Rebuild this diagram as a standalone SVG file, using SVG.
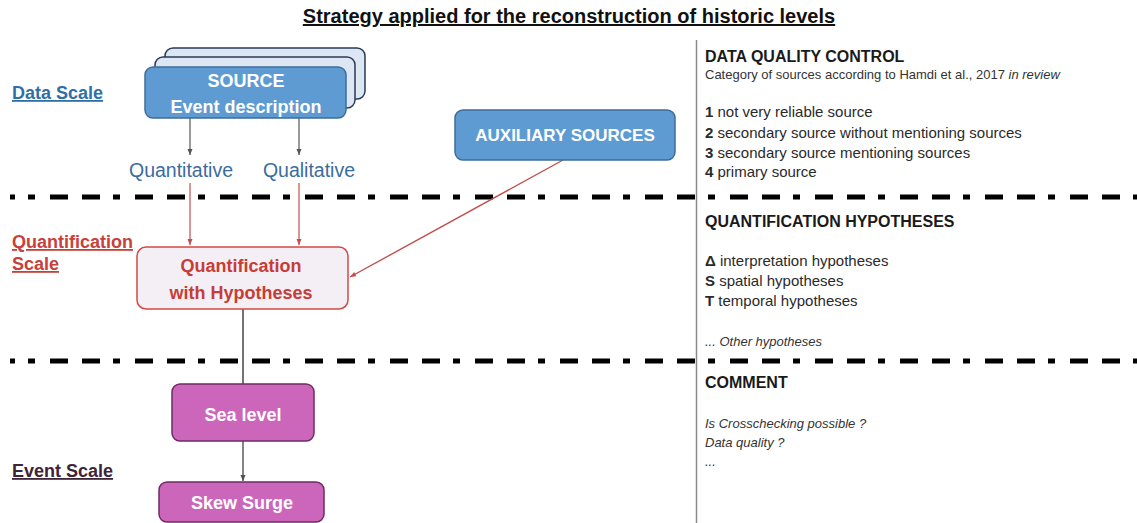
<svg xmlns="http://www.w3.org/2000/svg" width="1137" height="523" viewBox="0 0 1137 523">
<defs>
<marker id="ahGray" markerWidth="8" markerHeight="8" refX="7" refY="4" orient="auto" markerUnits="userSpaceOnUse">
<path d="M1,1.5 L7,4 L1,6.5 Z" fill="#555"/>
</marker>
<marker id="ahRed" markerWidth="8" markerHeight="8" refX="7" refY="4" orient="auto" markerUnits="userSpaceOnUse">
<path d="M1,1.5 L7,4 L1,6.5 Z" fill="#c0504d"/>
</marker>
<marker id="ahDark" markerWidth="8" markerHeight="8" refX="7" refY="4" orient="auto" markerUnits="userSpaceOnUse">
<path d="M1,1.5 L7,4 L1,6.5 Z" fill="#5a4a55"/>
</marker>
</defs>
<style>
text{font-family:"Liberation Sans",Arial,sans-serif}
.b{font-weight:bold}
.title{font-size:20px;font-weight:bold;fill:#111;text-decoration:underline}
.scale{font-size:18px;font-weight:bold;text-decoration:underline}
.white{fill:#fff;font-weight:bold;text-anchor:middle}
.head{font-size:16px;font-weight:bold;fill:#1a1a1a}
.item{font-size:15px;fill:#2a2a2a}
.small{font-size:13px;fill:#333}
.it{font-style:italic}
.dash{stroke:#000;stroke-width:5;stroke-dasharray:7 15 18 14 18 13;stroke-dashoffset:67;fill:none}
.blueBox{fill:#5e9bd3;stroke:#3f6d99;stroke-width:1.5}
.backBox{fill:#dde7f3;stroke:#2b3a58;stroke-width:1.5}
.pinkBox{fill:#cc66bb;stroke:#6e2c64;stroke-width:1.5}
</style>
<rect width="1137" height="523" fill="#fff"/>
<text class="title" x="569" y="23" text-anchor="middle">Strategy applied for the reconstruction of historic levels</text>

<line x1="696.5" y1="40" x2="696.5" y2="523" stroke="#8a8a8a" stroke-width="1.5"/>
<line class="dash" x1="10" y1="197" x2="1137" y2="197"/>
<line class="dash" x1="10" y1="361" x2="1137" y2="361"/>

<g id="scale-labels">
<text class="scale" x="12" y="99" fill="#2f6fa8">Data Scale</text>
<text class="scale" x="12" y="248" fill="#c9403b">Quantification</text>
<text class="scale" x="12" y="270" fill="#c9403b">Scale</text>
<text class="scale" x="12" y="477" fill="#3f2438">Event Scale</text>
</g>

<g id="connectors">
<line x1="190" y1="118" x2="190" y2="155" stroke="#555" stroke-width="1.2" marker-end="url(#ahGray)"/>
<line x1="299" y1="118" x2="299" y2="155" stroke="#555" stroke-width="1.2" marker-end="url(#ahGray)"/>
<line x1="190" y1="183" x2="190" y2="245" stroke="#c0504d" stroke-width="1.2" marker-end="url(#ahRed)"/>
<line x1="299" y1="183" x2="299" y2="245" stroke="#c0504d" stroke-width="1.2" marker-end="url(#ahRed)"/>
<line x1="563" y1="160" x2="350" y2="277" stroke="#c0504d" stroke-width="1.4" marker-end="url(#ahRed)"/>
<line x1="243" y1="309" x2="243" y2="384" stroke="#5a4a55" stroke-width="1.6"/>
<line x1="243" y1="441" x2="243" y2="481" stroke="#5a4a55" stroke-width="1.4" marker-end="url(#ahDark)"/>
</g>

<g id="source">
<rect class="backBox" x="165" y="48" width="200" height="51" rx="8"/>
<rect class="backBox" x="155" y="57" width="200" height="51" rx="8"/>
<rect class="blueBox" x="145" y="67" width="201" height="51" rx="8"/>
<text class="white" x="246" y="87" font-size="18">SOURCE</text>
<text class="white" x="246" y="113" font-size="18">Event description</text>
</g>

<g id="quantitative">
<text x="181" y="177" font-size="19.5" fill="#3a6d9e" text-anchor="middle">Quantitative</text>
</g>
<g id="qualitative">
<text x="309" y="177" font-size="19.5" fill="#3a6d9e" text-anchor="middle">Qualitative</text>
</g>

<g id="auxiliary">
<rect class="blueBox" x="455" y="110" width="220" height="50" rx="8"/>
<text class="white" x="565" y="141" font-size="17">AUXILIARY SOURCES</text>
</g>

<g id="quantification">
<rect x="137" y="247" width="211" height="62" rx="9" fill="#f4eff4" stroke="#d04a45" stroke-width="1.5"/>
<text x="241" y="272" font-size="18" font-weight="bold" fill="#c63d38" text-anchor="middle">Quantification</text>
<text x="241" y="299" font-size="18" font-weight="bold" fill="#c63d38" text-anchor="middle">with Hypotheses</text>
</g>

<g id="sea-level">
<rect class="pinkBox" x="172" y="384" width="142" height="57" rx="8"/>
<text class="white" x="243" y="421" font-size="18">Sea level</text>
</g>

<g id="skew-surge">
<rect class="pinkBox" x="159" y="482" width="165" height="40" rx="8"/>
<text class="white" x="242" y="509" font-size="18">Skew Surge</text>
</g>

<g id="data-quality">
<text class="head" x="705" y="62">DATA QUALITY CONTROL</text>
<text class="small" x="705" y="79">Category of sources according to Hamdi et al., 2017 <tspan class="it">in review</tspan></text>
<text class="item" x="705" y="117"><tspan class="b">1</tspan> not very reliable source</text>
<text class="item" x="705" y="138"><tspan class="b">2</tspan> secondary source without mentioning sources</text>
<text class="item" x="705" y="158"><tspan class="b">3</tspan> secondary source mentioning sources</text>
<text class="item" x="705" y="177"><tspan class="b">4</tspan> primary source</text>
</g>

<g id="hypotheses">
<text class="head" x="705" y="227">QUANTIFICATION HYPOTHESES</text>
<text class="item" x="705" y="266"><tspan class="b">Δ</tspan> interpretation hypotheses</text>
<text class="item" x="705" y="286"><tspan class="b">S</tspan> spatial hypotheses</text>
<text class="item" x="705" y="306"><tspan class="b">T</tspan> temporal hypotheses</text>
<text class="small it" x="705" y="346">... Other hypotheses</text>
</g>

<g id="comment">
<text class="head" x="705" y="388">COMMENT</text>
<text class="small it" x="705" y="428">Is Crosschecking possible ?</text>
<text class="small it" x="705" y="447">Data quality ?</text>
<text class="small it" x="705" y="466">...</text>
</g>
</svg>
